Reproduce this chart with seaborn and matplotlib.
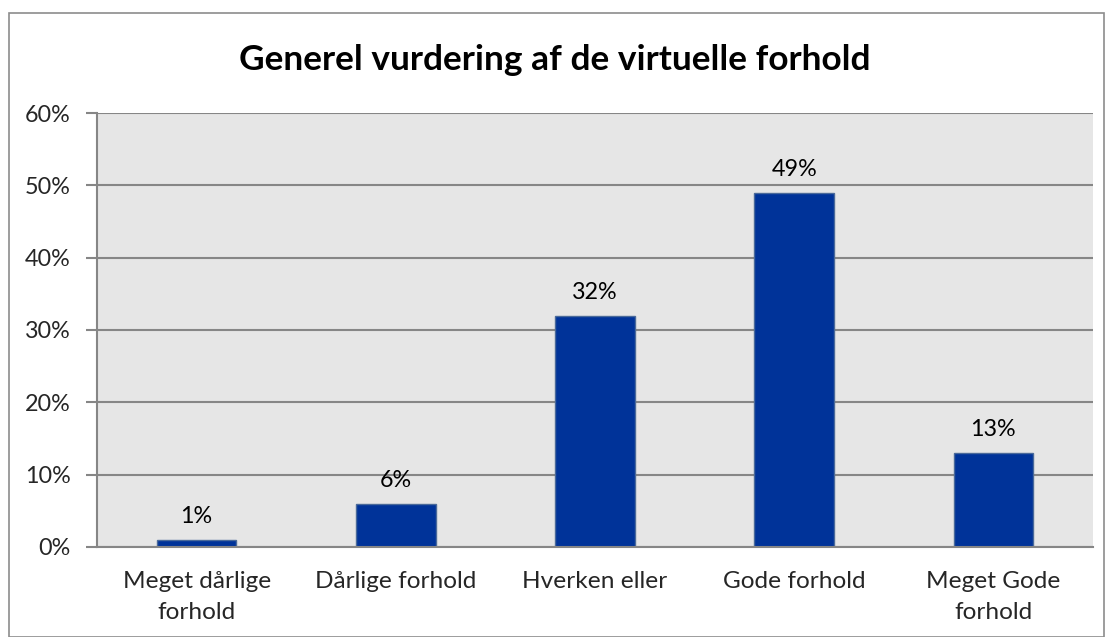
import matplotlib.pyplot as plt
import matplotlib.patches as mpatches
import seaborn as sns
from matplotlib.ticker import FuncFormatter, MultipleLocator

categories = ["Meget dårlige\nforhold", "Dårlige forhold", "Hverken eller",
              "Gode forhold", "Meget Gode\nforhold"]
shares = [1, 6, 32, 49, 13]
title = "Generel vurdering af de virtuelle forhold"

sns.set_theme(style="white")
plt.rcParams['font.family'] = ['Lato', 'DejaVu Sans']

fig = plt.figure(figsize=(11.09, 6.37), dpi=100)
ax = fig.add_axes([0.0875, 0.1413, 0.8981, 0.6813])

# outer chart border like the spreadsheet frame
fig.patches.append(mpatches.Rectangle((9 / 1109, 0.0), 1095 / 1109, 1 - 13 / 637,
                                      transform=fig.transFigure, fill=False,
                                      edgecolor="#8c8c8c", linewidth=1.2))

sns.barplot(x=categories, y=shares, ax=ax, color="#003399", width=0.4,
            edgecolor="#4a6a9a", linewidth=1.0, saturation=1)

ax.set_facecolor("#e6e6e6")
ax.set_ylim(0, 60)
ax.set_xlim(-0.5, len(categories) - 0.5)
ax.yaxis.set_major_locator(MultipleLocator(10))
ax.yaxis.set_major_formatter(FuncFormatter(lambda v, _: f"{v:.0f}%"))
ax.grid(axis="y", color="#868686", linewidth=1.5)
ax.set_axisbelow(True)

for side in ["top", "right"]:
    ax.spines[side].set_visible(False)
for side in ["left", "bottom"]:
    ax.spines[side].set_color("#868686")
    ax.spines[side].set_linewidth(1.5)

ax.set_xticks(range(len(categories)))
ax.set_xticklabels(categories, fontsize=17.6, linespacing=1.62)
ax.set_xticks([i + 0.5 for i in range(len(categories))], minor=True)
ax.tick_params(axis="x", which="major", length=0, pad=17)
ax.tick_params(axis="x", which="minor", length=7, width=1.5, color="#868686", direction="out")
ax.tick_params(axis="y", length=8, width=1.5, color="#868686", direction="out",
               labelsize=16.8, pad=11, left=True)

for i, v in enumerate(shares):
    ax.annotate(f"{v}%", (i, v), xytext=(0, 9), textcoords="offset points",
                ha="center", va="bottom", fontsize=16.8, color="black")

fig.text(0.5, 1 - 60 / 637, title, ha="center", va="center",
         fontsize=25.4, fontweight="bold", color="black")

ax.set_xlabel("")
ax.set_ylabel("")

fig.savefig("out.png", dpi=100)
